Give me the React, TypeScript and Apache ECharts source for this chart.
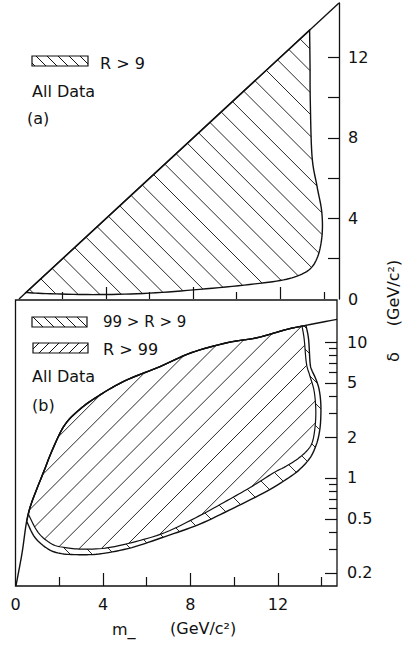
import React, { useEffect, useRef } from "react";
import * as echarts from "echarts";

type Pt = number[];

const FONT = "DejaVu Sans";
const INK = "#111111";

// ---- axes ----
const X_MIN = 0;
const X_MAX = 14.7;
const xMajorTicks = [4, 8, 12];
const xMinorTicks = [2, 6, 10, 14];
const xTickLabels = [0, 4, 8, 12];

const A_Y_MIN = 0;
const A_Y_MAX = 14.7;
const aYTicks = [2, 4, 6, 8, 10, 12];
const aYTickLabels = [0, 4, 8, 12];

const B_Y_MIN = 0.16;
const B_Y_MAX = 20.4;
const bYMajorTicks = [0.2, 0.5, 1, 2, 5, 10];
const bYMinorTicks = [0.3, 0.4, 0.6, 0.7, 0.8, 0.9, 3, 4, 6, 7, 8, 9];

// ---- panel (a): [m, delta] ----
const aLimit = [[0, 0], [14.7, 14.7]];
const aRegionTop = [[0.32, 0.32], [13.35, 13.35]];
const aRegionSide = [
  [13.35, 13.35], [13.37, 11.5], [13.38, 9.9], [13.46, 7.1], [13.69, 5.6],
  [13.9, 4.4], [13.93, 3.3], [13.78, 2.3], [13.48, 1.62], [13.0, 1.24],
  [12.15, 0.95], [10.6, 0.72], [8.3, 0.48], [6.0, 0.29], [3.7, 0.22],
  [1.45, 0.26], [0.32, 0.32],
];

// ---- panel (b): [m, delta] (log delta) ----
const bLimit = [
  [0.02, 0.16], [0.3, 0.28], [0.51, 0.48], [0.74, 0.66], [1.27, 1.09],
  [1.73, 1.67], [2.27, 2.48], [3.03, 3.29], [3.79, 4.01], [4.55, 4.75],
  [5.32, 5.46], [6.61, 6.6], [8.03, 8.34], [9.67, 9.88], [11.04, 10.76],
  [12.41, 12.4], [13.1, 13.1], [14.7, 14.7],
];
const bOuterTop = [
  [0.51, 0.48], [0.74, 0.66], [1.27, 1.09], [1.73, 1.67], [2.27, 2.48],
  [3.03, 3.29], [3.79, 4.01], [4.55, 4.75], [5.32, 5.46], [6.61, 6.6],
  [8.03, 8.34], [9.67, 9.88], [11.04, 10.76], [12.41, 12.4], [13.28, 13.25],
];
const bOuterSide = [
  [13.28, 13.25], [13.4, 10.5], [13.47, 7.0], [13.55, 6.2], [13.72, 5.4],
  [13.88, 4.5], [13.96, 3.5], [13.95, 2.6], [13.88, 2.1], [13.75, 1.75],
  [13.5, 1.43], [13.1, 1.2], [12.6, 1.03], [11.5, 0.8], [9.97, 0.6],
  [8.4, 0.455], [6.84, 0.37], [5.32, 0.307], [3.95, 0.277], [3.03, 0.272],
  [2.11, 0.277], [1.5, 0.299], [0.89, 0.364], [0.51, 0.48],
];
const bInnerTop = [
  [0.59, 0.54], [0.74, 0.66], [1.27, 1.09], [1.73, 1.67], [2.27, 2.48],
  [3.03, 3.29], [3.79, 4.01], [4.55, 4.75], [5.32, 5.46], [6.61, 6.6],
  [8.03, 8.34], [9.67, 9.88], [11.04, 10.76], [12.41, 12.4], [13.1, 13.1],
];
const bInnerSide = [
  [13.1, 13.1], [13.2, 10.5], [13.3, 7.0], [13.45, 5.7], [13.65, 4.4],
  [13.73, 3.2], [13.7, 2.4], [13.58, 1.85], [13.35, 1.6], [12.9, 1.38],
  [12.3, 1.2], [11.8, 1.09], [10.73, 0.85], [9.67, 0.68], [8.4, 0.525],
  [6.84, 0.396], [5.32, 0.334], [4.1, 0.304], [3.03, 0.299], [2.27, 0.307],
  [1.66, 0.326], [1.04, 0.396], [0.59, 0.54],
];

// ---- helpers ----
function smoothOpen(pts: Pt[], steps = 8): Pt[] {
  const n = pts.length;
  if (n < 3) return pts.map((p) => [p[0], p[1]]);
  const g = (i: number) => pts[Math.max(0, Math.min(n - 1, i))];
  const out: Pt[] = [];
  for (let i = 0; i < n - 1; i++) {
    const p0 = g(i - 1), p1 = g(i), p2 = g(i + 1), p3 = g(i + 2);
    for (let s = 0; s < steps; s++) {
      const t = s / steps, t2 = t * t, t3 = t2 * t;
      const c = (k: number) =>
        0.5 * (2 * p1[k] + (-p0[k] + p2[k]) * t +
          (2 * p0[k] - 5 * p1[k] + 4 * p2[k] - p3[k]) * t2 +
          (-p0[k] + 3 * p1[k] - 3 * p2[k] + p3[k]) * t3);
      out.push([c(0), c(1)]);
    }
  }
  out.push([pts[n - 1][0], pts[n - 1][1]]);
  return out;
}

function hatch45(polys: Pt[][], back: boolean, step: number, phase: number): number[][] {
  const f = (p: Pt) => (back ? p[0] - p[1] : p[0] + p[1]);
  let lo = Infinity, hi = -Infinity;
  polys.forEach((poly) => poly.forEach((p) => { const v = f(p); lo = Math.min(lo, v); hi = Math.max(hi, v); }));
  const segs: number[][] = [];
  for (let c = Math.ceil((lo - phase) / step) * step + phase; c <= hi; c += step) {
    const xs: number[] = [];
    polys.forEach((poly) => {
      const n = poly.length;
      for (let i = 0; i < n; i++) {
        const p = poly[i], q = poly[(i + 1) % n];
        const fp = f(p) - c, fq = f(q) - c;
        if ((fp < 0) !== (fq < 0)) {
          const s = fp / (fp - fq);
          xs.push(p[0] + s * (q[0] - p[0]));
        }
      }
    });
    xs.sort((a, b) => a - b);
    for (let k = 0; k + 1 < xs.length; k += 2) {
      const x1 = xs[k], x2 = xs[k + 1];
      segs.push([x1, back ? x1 - c : c - x1, x2, back ? x2 - c : c - x2]);
    }
  }
  return segs;
}

const segLines = (segs: number[][], w = 0.9) =>
  segs.map((s) => ({
    type: "line",
    shape: { x1: s[0], y1: s[1], x2: s[2], y2: s[3] },
    style: { stroke: INK, lineWidth: w },
  }));

function swatch(x: number, y: number, w: number, h: number, back: boolean, step: number, phase: number) {
  const poly = [[x, y], [x + w, y], [x + w, y + h], [x, y + h]];
  return [
    ...segLines(hatch45([poly], back, step, phase), 1),
    { type: "rect", shape: { x, y, width: w, height: h }, style: { fill: "none", stroke: INK, lineWidth: 1.2 } },
  ];
}

function label(text: string, x: number, y: number, size = 16) {
  return {
    type: "text", x, y,
    style: { text, fill: INK, fontFamily: FONT, fontSize: size, textAlign: "left", textVerticalAlign: "middle" },
  };
}

const lg10 = (v: number) => Math.log10(v);

function xAxisDef(gridIndex: number, ticks: number[], len: number, labels: number[] | null) {
  return {
    type: "value", gridIndex, min: X_MIN, max: X_MAX, position: "bottom",
    axisLine: { show: false, onZero: false },
    axisTick: { show: true, inside: true, length: len, customValues: ticks, lineStyle: { color: INK, width: 1.2 } },
    axisLabel: labels
      ? { show: true, customValues: labels, margin: 10, color: INK, fontFamily: FONT, fontSize: 16 }
      : { show: false },
    splitLine: { show: false },
  };
}

export default function App() {
  const ref = useRef<HTMLDivElement>(null);
  useEffect(() => {
    const chart = echarts.init(ref.current!, null, { renderer: "svg" });

    const option: any = {
      animation: false,
      backgroundColor: "#ffffff",
      grid: [
        { left: 19, top: 3, width: 320, height: 296, show: false },
        { left: 15.5, top: 300, width: 321.5, height: 286, show: true, borderColor: INK, borderWidth: 1.3, backgroundColor: "transparent" },
      ],
      xAxis: [
        xAxisDef(0, xMajorTicks, 12, null),
        xAxisDef(0, xMinorTicks, 7, null),
        xAxisDef(1, xMajorTicks, 13, xTickLabels),
        xAxisDef(1, xMinorTicks, 9, null),
      ],
      yAxis: [
        {
          type: "value", gridIndex: 0, position: "right", min: A_Y_MIN, max: A_Y_MAX,
          axisLine: { show: true, onZero: false, lineStyle: { color: INK, width: 1.3 } },
          axisTick: { show: true, inside: true, length: 11, customValues: aYTicks, lineStyle: { color: INK, width: 1.2 } },
          axisLabel: { show: true, customValues: aYTickLabels, margin: 9, color: INK, fontFamily: FONT, fontSize: 16 },
          splitLine: { show: false },
        },
        {
          type: "value", gridIndex: 1, position: "right", min: lg10(B_Y_MIN), max: lg10(B_Y_MAX),
          axisLine: { show: false, onZero: false },
          axisTick: { show: true, inside: true, length: 12, customValues: bYMajorTicks.map(lg10), lineStyle: { color: INK, width: 1.2 } },
          axisLabel: {
            show: true, customValues: bYMajorTicks.map(lg10), margin: 10, color: INK, fontFamily: FONT, fontSize: 16,
            formatter: (v: number) => { const x = Math.pow(10, v); return x < 1 ? x.toFixed(1) : String(Math.round(x)); },
          },
          splitLine: { show: false },
        },
        {
          type: "value", gridIndex: 1, position: "right", min: lg10(B_Y_MIN), max: lg10(B_Y_MAX),
          axisLine: { show: false, onZero: false },
          axisTick: { show: true, inside: true, length: 8, customValues: bYMinorTicks.map(lg10), lineStyle: { color: INK, width: 1.2 } },
          axisLabel: { show: false },
          splitLine: { show: false },
        },
      ],
      series: [
        {
          type: "custom", coordinateSystem: "cartesian2d", xAxisIndex: 0, yAxisIndex: 0,
          clip: false, silent: true, data: [[1, 1]],
          renderItem: (_p: any, api: any) => {
            const px = (arr: number[][]) => arr.map((p) => api.coord([p[0], p[1]]));
            const region = [...px(aRegionTop), ...smoothOpen(px(aRegionSide))];
            const limit = px(aLimit);
            return {
              type: "group",
              children: [
                ...segLines(hatch45([region], true, 21.7, 0.7)),
                { type: "polygon", shape: { points: region }, style: { fill: "none", stroke: INK, lineWidth: 1.4 } },
                { type: "polyline", shape: { points: limit }, style: { fill: "none", stroke: INK, lineWidth: 1.4 } },
              ],
            };
          },
        },
        {
          type: "custom", coordinateSystem: "cartesian2d", xAxisIndex: 2, yAxisIndex: 1,
          clip: false, silent: true, data: [[1, 0]],
          renderItem: (_p: any, api: any) => {
            const px = (arr: number[][]) => arr.map((p) => api.coord([p[0], lg10(p[1])]));
            const outer = [...smoothOpen(px(bOuterTop)), ...smoothOpen(px(bOuterSide))];
            const inner = [...smoothOpen(px(bInnerTop)), ...smoothOpen(px(bInnerSide))];
            const limit = smoothOpen(px(bLimit));
            return {
              type: "group",
              children: [
                ...segLines(hatch45([outer, inner], true, 22, 0)),
                ...segLines(hatch45([inner], false, 22.1, 9)),
                { type: "polygon", shape: { points: outer }, style: { fill: "none", stroke: INK, lineWidth: 1.4 } },
                { type: "polygon", shape: { points: inner }, style: { fill: "none", stroke: INK, lineWidth: 1.2 } },
                { type: "polyline", shape: { points: limit }, style: { fill: "none", stroke: INK, lineWidth: 1.4 } },
              ],
            };
          },
        },
      ],
      graphic: [
        // panel (a) legend
        ...swatch(32, 56, 56, 10, true, 11, 2),
        label("R > 9", 100, 63),
        label("All Data", 32, 91),
        label("(a)", 27, 118),
        // panel (b) legend
        ...swatch(32, 317, 55, 10, true, 11, 2),
        label("99 > R > 9", 103, 322, 15),
        ...swatch(33, 343, 55, 10, false, 10, 2),
        label("R > 99", 103, 349),
        label("All Data", 32, 376),
        label("(b)", 32, 405),
        // axis titles
        {
          type: "text", x: 393, y: 357, rotation: Math.PI / 2,
          style: { text: "δ", fill: INK, fontFamily: FONT, fontSize: 16, textAlign: "center", textVerticalAlign: "middle" },
        },
        {
          type: "text", x: 393, y: 293, rotation: Math.PI / 2,
          style: { text: "(GeV/c²)", fill: INK, fontFamily: FONT, fontSize: 16, textAlign: "center", textVerticalAlign: "middle" },
        },
        label("m_", 112, 629),
        label("(GeV/c²)", 170, 628),
      ],
    };

    chart.setOption(option);
    return () => chart.dispose();
  }, []);
  return (
    <div
      ref={ref}
      style={{ position: "absolute", left: 0, top: 0, width: 406, height: 645, background: "#ffffff" }}
    />
  );
}
